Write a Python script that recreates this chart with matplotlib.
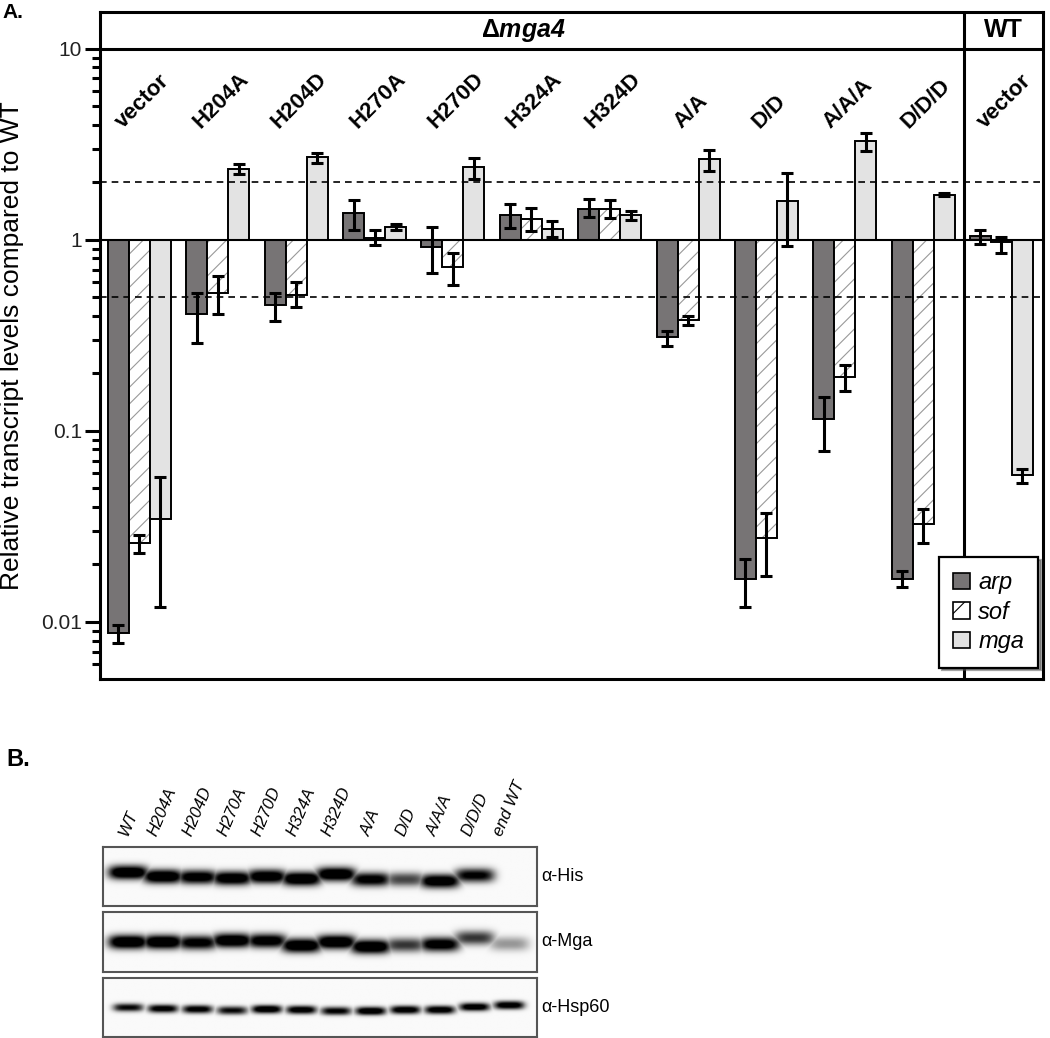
import numpy as np
import matplotlib
matplotlib.use("Agg")
import matplotlib.pyplot as plt
from matplotlib.patches import Patch

plt.rcParams['font.family'] = 'Liberation Sans'
plt.rcParams['mathtext.fontset'] = 'custom'
plt.rcParams['mathtext.rm'] = 'Liberation Sans'
plt.rcParams['mathtext.bf'] = 'Liberation Sans:bold'
plt.rcParams['mathtext.bfit'] = 'Liberation Sans:italic:bold'
plt.rcParams['hatch.linewidth'] = 0.8

# ---- panel A data (relative transcript levels) ----
groups = ['vector', 'H204A', 'H204D', 'H270A', 'H270D', 'H324A', 'H324D',
          'A/A', 'D/D', 'A/A/A', 'D/D/D', 'vector']
arp = [0.0088, 0.41, 0.455, 1.38, 0.92, 1.35, 1.45, 0.311, 0.0168, 0.1155, 0.0168, 1.05]
arp_lo = [0.0078, 0.29, 0.375, 1.13, 0.67, 1.155, 1.32, 0.28, 0.012, 0.0785, 0.0152, 0.95]
arp_hi = [0.0096, 0.53, 0.53, 1.62, 1.17, 1.54, 1.64, 0.334, 0.0214, 0.15, 0.0185, 1.13]
sof = [0.026, 0.527, 0.517, 1.02, 0.72, 1.29, 1.45, 0.381, 0.0275, 0.192, 0.0326, 0.976]
sof_lo = [0.023, 0.41, 0.445, 0.94, 0.58, 1.11, 1.30, 0.36, 0.0174, 0.162, 0.026, 0.855]
sof_hi = [0.0285, 0.65, 0.60, 1.13, 0.85, 1.47, 1.62, 0.40, 0.037, 0.222, 0.039, 1.04]
mga = [0.0346, 2.35, 2.72, 1.17, 2.41, 1.14, 1.35, 2.65, 1.6, 3.3, 1.72, 0.059]
mga_lo = [0.012, 2.22, 2.53, 1.13, 2.09, 1.04, 1.27, 2.3, 0.93, 2.93, 1.69, 0.0535]
mga_hi = [0.0575, 2.5, 2.85, 1.21, 2.69, 1.26, 1.42, 2.96, 2.24, 3.63, 1.75, 0.063]

# ---- panel B data (band darkness 0-1 and band position from top of strip) ----
lanes = ['WT', 'H204A', 'H204D', 'H270A', 'H270D', 'H324A', 'H324D',
         'A/A', 'D/D', 'A/A/A', 'D/D/D', 'end WT']
his_int = [1.0, 1.0, 0.9, 0.95, 0.95, 1.0, 1.0, 0.85, 0.55, 0.95, 0.8, 0.0]
his_pos = [0.43, 0.50, 0.51, 0.53, 0.50, 0.54, 0.46, 0.55, 0.55, 0.58, 0.48, 0.5]
mgab_int = [1.0, 1.0, 0.85, 1.0, 0.9, 1.0, 1.0, 1.0, 0.6, 0.9, 0.6, 0.3]
mgab_pos = [0.50, 0.50, 0.51, 0.475, 0.48, 0.56, 0.50, 0.58, 0.55, 0.54, 0.43, 0.53]
hsp_int = [0.75, 0.85, 0.85, 0.75, 0.95, 0.9, 0.8, 0.95, 0.9, 0.9, 0.9, 0.9]
hsp_pos = [0.50, 0.52, 0.53, 0.55, 0.53, 0.54, 0.56, 0.56, 0.54, 0.54, 0.49, 0.46]

fig = plt.figure(figsize=(10.5, 10.38), dpi=100)

# ================= panel A =================
ax = fig.add_axes([100/1050, 1 - 679/1038, 943/1050, 667/1038])
ax.set_yscale('log')
x = np.arange(len(groups))
w = 0.268

arp = np.array(arp); sof = np.array(sof); mga = np.array(mga)
ax.bar(x - w, arp - 1, bottom=1, width=w, color='#777475', edgecolor='k', lw=1.4, zorder=2)
ax.bar(x, sof - 1, bottom=1, width=w, color='white', edgecolor='#999999', hatch='//', lw=0, zorder=2)
ax.bar(x, sof - 1, bottom=1, width=w, color='none', edgecolor='k', lw=1.4, zorder=2)
ax.bar(x + w, mga - 1, bottom=1, width=w, color='#e3e3e3', edgecolor='k', lw=1.4, zorder=2)

for off, v, lo, hi in [(-w, arp, arp_lo, arp_hi), (0, sof, sof_lo, sof_hi), (w, mga, mga_lo, mga_hi)]:
    ax.errorbar(x + off, v, yerr=[v - np.array(lo), np.array(hi) - v], fmt='none',
                ecolor='k', elinewidth=2.2, capsize=4.5, capthick=2.2, zorder=4)

ax.axhline(1, color='k', lw=1.5, zorder=3)
ax.axhline(2, color='k', lw=1.2, ls=(0, (4, 3)), zorder=3)
ax.axhline(0.5, color='k', lw=1.2, ls=(0, (4, 3)), zorder=3)
ax.axhline(10, color='k', lw=2.2, zorder=3)
ax.axvline(10.52, color='k', lw=2.2, zorder=3)

ax.set_xlim(-0.504, 11.53)
ax.set_ylim(0.00503, 15.6)
ax.set_xticks([])
ax.set_yticks([0.01, 0.1, 1, 10])
ax.set_yticklabels(['0.01', '0.1', '1', '10'])
ax.yaxis.set_minor_locator(matplotlib.ticker.LogLocator(base=10, subs=np.arange(2, 10), numticks=20))
ax.yaxis.set_minor_formatter(matplotlib.ticker.NullFormatter())
ax.tick_params(axis='y', which='major', length=11, width=2.2, labelsize=15, pad=2, labelcolor='#222222')
ax.tick_params(axis='y', which='minor', length=6, width=2.2)
for s in ax.spines.values():
    s.set_linewidth(2.2)

ax.set_ylabel('Relative transcript levels compared to WT', fontsize=19, va='center')
ax.yaxis.set_label_coords(-0.093, 0.5)

for i, g in enumerate(groups):
    ax.text(i + 0.04, 3.65, g, rotation=45, ha='center', va='bottom',
            fontsize=16, fontweight='bold', zorder=5)

ax.text(4.9, 12.5, r'$\mathbf{\Delta}\mathbfit{mga4}$', ha='center', va='center', fontsize=18)
ax.text(11.02, 12.5, 'WT', ha='center', va='center', fontsize=18, fontweight='bold')

handles = [Patch(facecolor='#777475', edgecolor='k', lw=1.2, label='arp'),
           Patch(facecolor='white', edgecolor='k', lw=1.2, hatch='/', label='sof'),
           Patch(facecolor='#e3e3e3', edgecolor='k', lw=1.2, label='mga')]
leg = ax.legend(handles=handles, loc='lower right', bbox_to_anchor=(0.995, 0.017),
                borderaxespad=0, prop={'style': 'italic', 'size': 17}, fancybox=False,
                shadow=True, framealpha=1, edgecolor='k', handlelength=0.7,
                handleheight=0.7, handletextpad=0.35, labelspacing=0.28, borderpad=0.6)
leg.get_frame().set_linewidth(1.6)
leg.set_zorder(6)

fig.text(2/1050, 1 - 12/1038, 'A.', fontsize=15, fontweight='bold', va='center', ha='left')
fig.text(6/1050, 1 - 759/1038, 'B.', fontsize=17, fontweight='bold', va='center', ha='left')

# ================= panel B =================
def blot(intens, pos, sig, half):
    nx, ny = 500, 70
    xs = np.linspace(-0.72, 11.79, nx)
    ys = np.linspace(0, 1, ny)
    X, Y = np.meshgrid(xs, ys)
    img = np.zeros_like(X)
    for i in range(len(intens)):
        hx = np.exp(-np.abs((X - i) / half) ** 4)
        vy = np.exp(-np.abs((Y - pos[i]) / sig) ** 2.2)
        img = np.maximum(img, intens[i] * hx * vy)
    return np.clip(img * 1.3, 0, 1) + 0.02

strips = [(his_int, his_pos, 0.12, 0.58, 847, 906, u'\u03b1-His'),
          (mgab_int, mgab_pos, 0.12, 0.58, 912, 972, u'\u03b1-Mga'),
          (hsp_int, hsp_pos, 0.07, 0.44, 978, 1037, u'\u03b1-Hsp60')]
for k, (iv, pv, sg, hf, top, bot, lab) in enumerate(strips):
    bx = fig.add_axes([103/1050, 1 - bot/1038, 434/1050, (bot - top)/1038])
    bx.imshow(blot(iv, pv, sg, hf), cmap='gray_r', vmin=0, vmax=1, aspect='auto',
              extent=[-0.72, 11.79, 1, 0], interpolation='bilinear')
    bx.set_xlim(-0.72, 11.79)
    bx.set_ylim(1, 0)
    bx.set_xticks([]); bx.set_yticks([])
    for s in bx.spines.values():
        s.set_linewidth(1.5)
        s.set_color('#555555')
    bx.text(1.01, 0.5, lab, transform=bx.transAxes, ha='left', va='center', fontsize=13)
    if k == 0:
        for i, ln in enumerate(lanes):
            bx.text(i, 1.15, ln, transform=bx.get_xaxis_transform(), rotation=67,
                    ha='center', va='bottom', fontsize=12, style='italic')

fig.savefig('out.png', dpi=100)
